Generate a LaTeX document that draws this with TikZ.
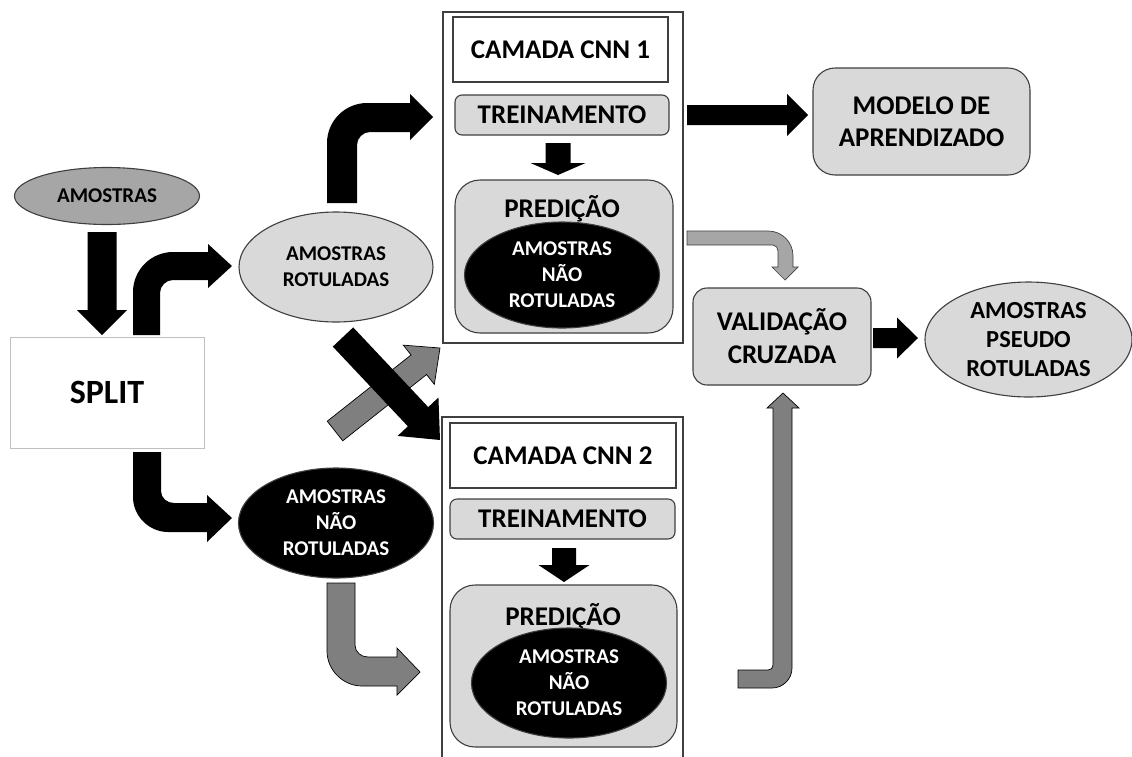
\documentclass[tikz,border=0pt]{standalone}
\usepackage{fontspec}
\setmainfont{Carlito}
\usetikzlibrary{shapes.geometric,calc}
\definecolor{lgray}{HTML}{D9D9D9}
\definecolor{mgray}{HTML}{A6A6A6}
\definecolor{dgray}{HTML}{7F7F7F}
\definecolor{edge}{HTML}{3F3F3F}
\definecolor{splitgray}{HTML}{BFBFBF}
\newcommand\blockarrow[6]{%
  \coordinate (ba-t) at #2; \coordinate (ba-h) at #3;
  \coordinate (ba-b) at ($(ba-h)!#6!(ba-t)$);
  \path[#1] ($(ba-t)!#4!90:(ba-h)$) -- ($(ba-b)!#4!90:(ba-h)$) -- ($(ba-b)!#5!90:(ba-h)$) -- (ba-h)
     -- ($(ba-b)!#5!-90:(ba-h)$) -- ($(ba-b)!#4!-90:(ba-h)$) -- ($(ba-t)!#4!-90:(ba-h)$) -- cycle;}
\begin{document}
\begin{tikzpicture}[x=1pt,y=-1pt,
  big/.style={font=\fontsize{27}{32}\selectfont\bfseries, align=center, inner sep=0pt},
  smallt/.style={font=\fontsize{21}{26}\selectfont\bfseries, align=center, inner sep=0pt},
  box/.style={draw=edge, line width=1.1pt, inner sep=0pt},
  grayfill/.style={box, fill=lgray},
  oval/.style={ellipse, draw=edge, line width=1.1pt, inner sep=0pt},
  blackarrow/.style={fill=black},
  grayarrow/.style={fill=dgray, draw=black, line width=0.7pt},
  lightarrow/.style={fill=mgray, draw=edge, line width=0.7pt}]
\useasboundingbox (0,0) rectangle (1132,756);
\clip (0,0) rectangle (1132,756);
\fill[white] (0,0) rectangle (1132,756);

% left column
\node[oval, fill=mgray, minimum width=185pt, minimum height=57pt, smallt] (amo) at (107,196) {AMOSTRAS};
\node[draw=splitgray, line width=1pt, fill=white, minimum width=194pt, minimum height=111pt, inner sep=0pt,
      font=\fontsize{34}{40}\selectfont\bfseries] (split) at (107,392.5) {SPLIT};
\node[oval, fill=lgray, minimum width=194pt, minimum height=110pt, smallt] (rot) at (336,267) {AMOSTRAS\\ROTULADAS};
\node[oval, fill=black, minimum width=195pt, minimum height=110pt, smallt, text=white] (naorot) at (336,523) {AMOSTRAS\\NÃO\\ROTULADAS};

% CNN 1
\draw[box] (443,12) rectangle (683,343);
\coordinate (cnn1) at (563,177);
\node[box, fill=white, minimum width=215pt, minimum height=65pt, big] (cam1) at (560.5,49.5) {CAMADA CNN 1};
\node[grayfill, rounded corners=7pt, minimum width=214pt, minimum height=40pt, big] (tre1) at (562,115) {TREINAMENTO};
\node[grayfill, rounded corners=25pt, minimum width=218pt, minimum height=153pt] (pre1) at (564,256.5) {};
\node[big, anchor=base] (pre1t) at (562,217) {PREDIÇÃO};
\node[oval, fill=black, minimum width=195pt, minimum height=106pt, smallt, text=white] (ell1) at (562,275) {AMOSTRAS\\NÃO\\ROTULADAS};

% CNN 2
\draw[box] (442,417) rectangle (683,780);
\node[box, fill=white, minimum width=226pt, minimum height=65pt, big] (cam2) at (563,455.5) {CAMADA CNN 2};
\node[grayfill, rounded corners=7pt, minimum width=225pt, minimum height=40pt, big] (tre2) at (562.5,519) {TREINAMENTO};
\node[grayfill, rounded corners=25pt, minimum width=227pt, minimum height=162pt] (pre2) at (563.5,666) {};
\node[big, anchor=base] (pre2t) at (563,625) {PREDIÇÃO};
\node[oval, fill=black, minimum width=195pt, minimum height=110pt, smallt, text=white] (ell2) at (569,683) {AMOSTRAS\\NÃO\\ROTULADAS};

% right side
\node[grayfill, rounded corners=22pt, minimum width=217pt, minimum height=107pt, big] (modelo) at (921.5,121.5) {MODELO DE\\APRENDIZADO};
\node[grayfill, rounded corners=14pt, minimum width=178pt, minimum height=97pt,
      font=\fontsize{27}{33}\selectfont\bfseries, align=center] (valid) at (782,336.5) {VALIDAÇÃO\\CRUZADA};
\node[oval, fill=lgray, minimum width=207pt, minimum height=115pt,
      font=\fontsize{24.5}{29}\selectfont\bfseries, align=center] (pseudo) at (1028.5,339.5) {AMOSTRAS\\PSEUDO\\ROTULADAS};

% straight block arrows
\blockarrow{blackarrow}{(102,232)}{(102,335)}{14.5pt}{25pt}{25pt}
\blockarrow{blackarrow}{(687,115)}{(808,115)}{10pt}{21pt}{21pt}
\blockarrow{blackarrow}{(873,338)}{(918,338)}{10pt}{20.5pt}{21pt}
\blockarrow{blackarrow}{(558,143)}{(558,175)}{12.5pt}{27.5pt}{12pt}
\blockarrow{blackarrow}{(564,548)}{(564,582)}{12pt}{25.5pt}{17pt}
\blockarrow{grayarrow}{(335,431)}{(440,348)}{12.5pt}{25pt}{27pt}
\blockarrow{blackarrow}{(343,337)}{(440,440)}{14pt}{28pt}{32pt}

% bent block arrows
\fill[black] (133,335) -- (133,292) .. controls (133,270) and (151,252) .. (173,252) -- (208,252) -- (208,244) -- (232,266)
  -- (208,288) -- (208,280) -- (173,280) .. controls (166,280) and (160,286) .. (160,293) -- (160,335) -- cycle;
\fill[black] (327,203) -- (327,143) .. controls (327,121) and (345,103) .. (367,103) -- (410,103) -- (410,94) -- (433,117)
  -- (410,140) -- (410,132) -- (370,132) .. controls (363,132) and (357,138) .. (357,145) -- (357,203) -- cycle;
\fill[black] (133,452) -- (133,497) .. controls (133,516) and (149,532) .. (168,532) -- (207,532) -- (207,542) -- (232,518)
  -- (207,495) -- (207,503) -- (174,503) .. controls (167,503) and (161,498) .. (161,491) -- (161,452) -- cycle;
\path[grayarrow] (327,583) -- (327,651) .. controls (327,670) and (343,686) .. (362,686) -- (397,686) -- (397,695) -- (420,672)
  -- (397,648) -- (397,657) -- (368,657) .. controls (361,657) and (355,652) .. (355,645) -- (355,583) -- cycle;
\path[lightarrow] (687,231) -- (768,231) .. controls (782,231) and (793,242) .. (793,256) -- (793,267) -- (798,267) -- (785,280)
  -- (772,267) -- (778,267) -- (778,251) .. controls (778,248) and (776,245) .. (773,245) -- (687,245) -- cycle;
\path[grayarrow] (738,670) -- (768,670) .. controls (771,670) and (773,668) .. (773,665) -- (773,408) -- (767,408) -- (783,393)
  -- (799,408) -- (792,408) -- (792,668) .. controls (792,679) and (783,688) .. (772,688) -- (738,688) -- cycle;
\end{tikzpicture}
\end{document}
